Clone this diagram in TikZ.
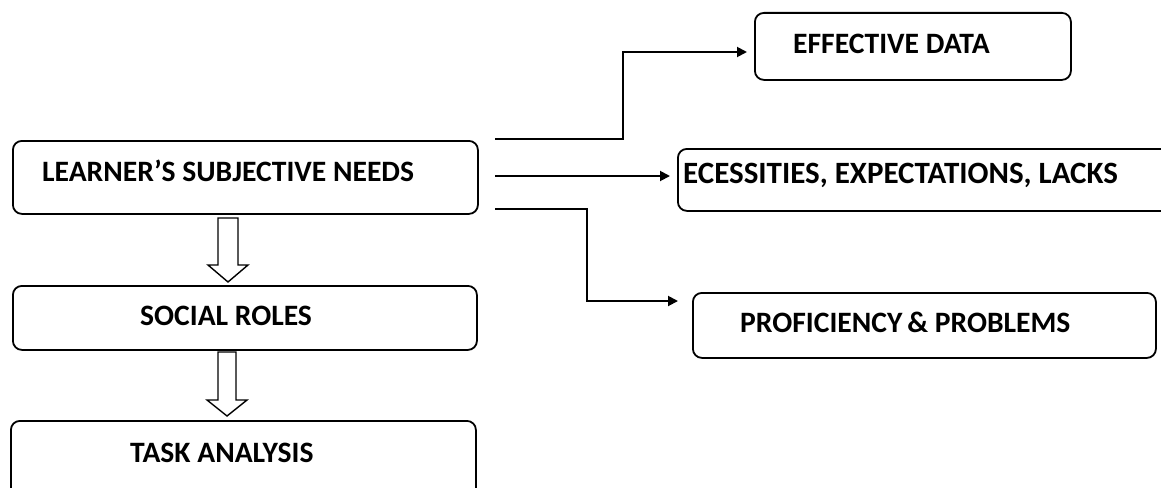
\documentclass[tikz,border=0pt]{standalone}
\usepackage{fontspec}
\setmainfont{Carlito}
\usetikzlibrary{arrows.meta}
\tikzset{
  box/.style={draw, line width=1.8pt, rounded corners=9pt, inner sep=0pt},
  lbl/.style={inner sep=0pt, anchor=base west, font=\bfseries\fontsize{29.6}{32}\selectfont},
  biglbl/.style={lbl, font=\bfseries\fontsize{31}{34}\selectfont},
  conn/.style={line width=1.9pt, -{Triangle[length=10pt,width=10pt]}},
  hollow/.style={draw, line width=1.4pt, fill=white, line join=miter}
}
\begin{document}
\begin{tikzpicture}[x=1pt,y=-1pt]
\clip (0,0) rectangle (1161,487);
\useasboundingbox (0,0) rectangle (1161,487);
% boxes
\node[box, anchor=north west, minimum width=465pt, minimum height=73pt] (learner) at (12,140) {};
\node[box, anchor=north west, minimum width=464pt, minimum height=64pt] (social) at (12,285) {};
\node[box, anchor=north west, minimum width=465pt, minimum height=85pt] (task) at (10,420) {};
\node[box, anchor=north west, minimum width=316pt, minimum height=67pt] (eff) at (754,12) {};
\node[box, anchor=north west, minimum width=500pt, minimum height=62pt] (nec) at (677,148) {};
\node[box, anchor=north west, minimum width=463pt, minimum height=65pt] (prof) at (692,292) {};
% labels
\node[lbl] (tlearner) at (42,181) {LEARNER’S SUBJECTIVE NEEDS};
\node[lbl] (tsocial) at (140,325) {SOCIAL ROLES};
\node[lbl] (ttask) at (130,462) {TASK ANALYSIS};
\node[lbl] (teff) at (793,53) {EFFECTIVE DATA};
\node[biglbl] (tnec) at (683,183) {ECESSITIES, EXPECTATIONS, LACKS};
\node[lbl] (tprof) at (740,332) {PROFICIENCY\,\& PROBLEMS};
% connectors
\coordinate (c1) at (495,139);
\coordinate (c2) at (495,176);
\coordinate (c3) at (495,209);
\draw[conn, shorten >=7pt] (c1) -- (623,139) |- (eff.west |- 0,52);
\draw[conn, shorten >=7pt] (c2) -- (nec.west |- c2);
\draw[conn, shorten >=14pt] (c3) -- (587,209) |- (prof.west |- 0,301);
% hollow arrows
\draw[hollow] (218,218) -- (238,218) -- (238,265) -- (248,265) -- (228,282) -- (208,265) -- (218,265) -- cycle;
\draw[hollow] (218,352) -- (236,352) -- (236,400) -- (247,400) -- (227,416) -- (207,400) -- (218,400) -- cycle;
\end{tikzpicture}
\end{document}
